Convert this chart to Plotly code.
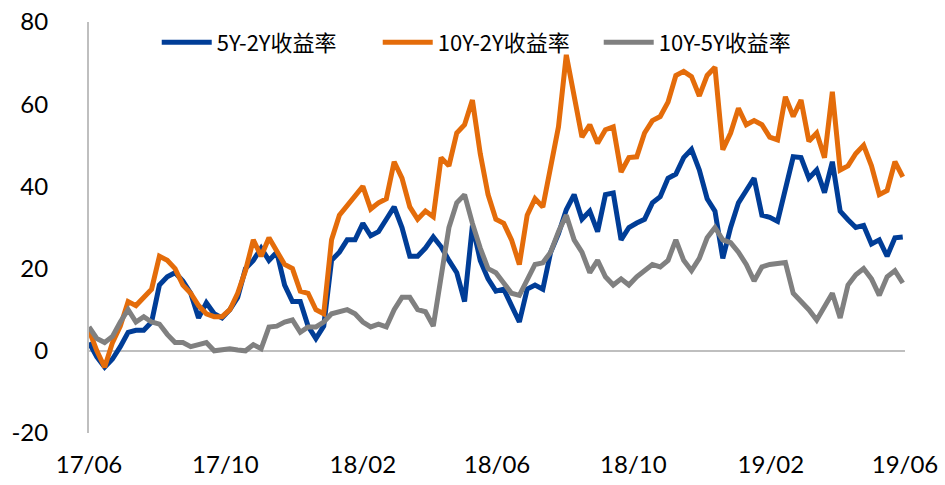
import pandas as pd
import plotly.graph_objects as go

# weekly observation dates
dates = pd.date_range("2017-06-01", periods=105, freq="7D")

tick_vals = ["2017-06-01", "2017-10-01", "2018-02-01", "2018-06-01",
             "2018-10-01", "2019-02-01", "2019-06-01"]
tick_text = ["17/06", "17/10", "18/02", "18/06", "18/10", "19/02", "19/06"]
y_tick_vals = [-20, 0, 20, 40, 60, 80]
y_tick_text = ["-20", "0", "20", "40", "60", "80"]

names = ["5Y-2Y收益率", "10Y-2Y收益率", "10Y-5Y收益率"]

spread_5y2y = [2, -1.5, -4, -2, 1, 4.5, 5, 5, 7, 16,
               18, 19, 17, 14, 8, 11.7, 9, 8, 10, 13,
               20, 22, 25, 22, 24, 16, 12, 12, 6, 3,
               6, 22, 24, 27, 27, 31, 28, 29, 32, 35,
               30, 23, 23, 25, 27.7, 25.3, 22, 19, 12, 30.5,
               22, 17.5, 14.5, 15, 11, 7, 15, 16, 15, 24,
               28.5, 34.3, 38, 32, 34, 29, 38, 38.4, 27, 30,
               31.1, 32, 36, 37.5, 42, 43, 47, 49, 44, 37,
               34, 22.5, 30, 36, 39, 42, 33, 32.5, 31.5, 39,
               47.2, 47, 42, 44, 38.5, 46, 34, 31.9, 30, 30.5,
               26, 27, 23, 27.5, 27.7]

spread_10y2y = [5, 0, -4, 2, 6, 12, 11, 13, 15, 23,
                22, 20, 16, 14, 11, 9, 8.3, 8.3, 10, 14,
                19.5, 27, 23, 27.5, 24, 21, 20, 14.5, 14, 10,
                9, 27, 33, 35.5, 38, 40, 34.5, 36, 37, 46,
                42, 35, 32, 34, 32.6, 47, 45, 53, 55, 61,
                48, 38, 32, 31, 27, 21, 33, 37, 35, 45,
                54.5, 72, 62, 52, 55, 50.5, 53.8, 54.5, 43.5, 47,
                47.2, 53, 56, 57, 60.5, 67, 68, 66.7, 62, 67,
                69, 48.9, 53, 59, 55, 56, 55, 52, 51.3, 61.8,
                57, 61, 51, 53, 47, 63, 44, 45, 48, 50,
                45, 38, 39, 46, 42.3]

spread_10y5y = [5.8, 3, 2, 3.5, 7, 10, 7, 8.3, 7, 6.5,
                4, 2, 2, 1, 1.5, 2, 0, 0.2, 0.5, 0.2,
                0, 1.5, 0.5, 5.8, 6, 7, 7.5, 4.5, 5.8, 5.8,
                7, 9, 9.5, 10, 9, 7, 5.8, 6.5, 5.8, 10,
                13, 13, 10, 9.5, 6, 18.5, 30, 36, 38, 31,
                25, 20, 19, 16.5, 14, 13.5, 17, 21, 21.4, 24,
                29, 33, 27, 24, 19, 22, 18, 16, 17.5, 16,
                18, 19.5, 21, 20.4, 22, 27, 22, 19.5, 22.5, 27.5,
                30, 27, 26.3, 24, 21, 17, 20.4, 21, 21.4, 21.5,
                14, 12, 10, 7.5, 11, 14, 8, 16, 18.5, 20,
                17.5, 13.5, 18, 19.5, 16.5]

colors = ["#003D97", "#E46C0A", "#808080"]
series = [spread_5y2y, spread_10y2y, spread_10y5y]

fig = go.Figure()
for name, vals, col in zip(names, series, colors):
    fig.add_trace(go.Scatter(x=dates, y=vals, mode="lines", name=name,
                             line=dict(color=col, width=5)))

fig.update_layout(
    width=945, height=485,
    margin=dict(l=89, r=40, t=22, b=52, autoexpand=False),
    paper_bgcolor="white", plot_bgcolor="white",
    font=dict(family="Lato, 'Noto Sans CJK SC', sans-serif", size=24, color="#000000"),
    showlegend=True,
    legend=dict(orientation="h", x=0.083, y=0.95, xanchor="left", yanchor="middle",
                font=dict(family="'Noto Sans CJK SC', sans-serif", size=22, color="#000000"),
                bgcolor="rgba(0,0,0,0)", entrywidth=156, entrywidthmode="pixels",
                itemwidth=50, tracegroupgap=0),
    xaxis=dict(range=["2017-06-01", "2019-06-01"], tickmode="array",
               tickvals=tick_vals, ticktext=tick_text, showgrid=False,
               showline=False, zeroline=False, ticks="", ticklabelstandoff=15,
               tickfont=dict(size=24), automargin=False),
    yaxis=dict(range=[-20, 80], tickmode="array", tickvals=y_tick_vals,
               ticktext=y_tick_text, showgrid=False,
               showline=True, linecolor="#BFBFBF", linewidth=2,
               zeroline=True, zerolinecolor="#BFBFBF", zerolinewidth=2,
               ticks="", ticklabelstandoff=34, tickfont=dict(size=24),
               automargin=False),
)

fig.write_html("out.html", config={"displayModeBar": False},
               post_script="document.body.style.margin='0px';"
                           "document.body.style.overflow='hidden';")
